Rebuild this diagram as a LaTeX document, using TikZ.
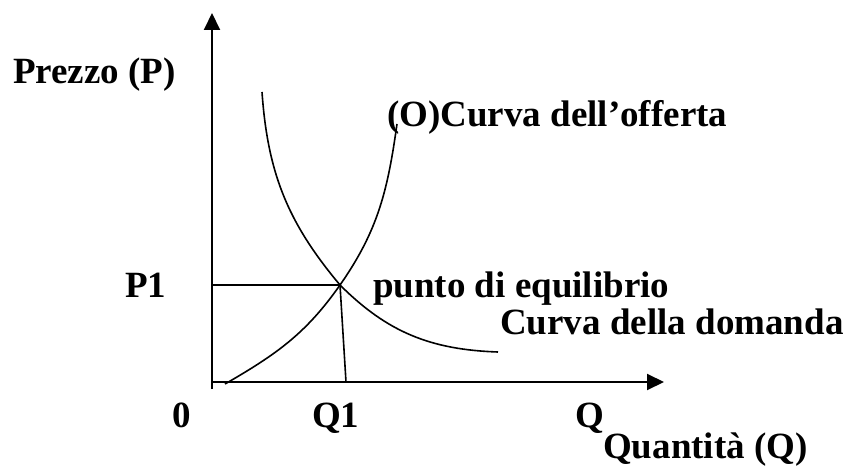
\documentclass[tikz,border=0pt]{standalone}
\usepackage{fontspec}
\setmainfont{Liberation Serif}
\usetikzlibrary{arrows.meta, positioning}

\begin{document}
\begin{tikzpicture}[
    x=1pt, y=-1pt,
    lbl/.style={font=\fontsize{37}{40}\selectfont\bfseries, anchor=base west, inner sep=0pt},
    axisline/.style={-{Triangle[length=17pt, width=16pt]}, line width=2pt},
    curveline/.style={line width=1.6pt}
  ]
    \useasboundingbox (0,0) rectangle (845,473);
    % axes
    \coordinate (origin) at (212,382);
    \coordinate (ybot) at (212,389);
    \coordinate (ytop) at (212,13);
    \coordinate (xend) at (664,382);
    \draw[axisline] (ybot) -- (ytop);
    \draw[axisline] (origin) -- (xend);

    % supply and demand
    \coordinate (eq) at (340,285);
    \coordinate (s0) at (225,384);
    \coordinate (s1) at (397,124);
    \coordinate (d0) at (262,92);
    \coordinate (d1) at (498,352);
    \coordinate (p1) at (212,285);
    \coordinate (q1) at (346,382);
    \draw[curveline] (s0) to[out=30, in=-125] (eq) to[out=55, in=-98] (s1);
    \draw[curveline] (d0) to[out=-86, in=130] (eq) to[out=-45, in=178] (d1);
    \draw[curveline] (p1) -- (eq);
    \draw[curveline] (eq) -- (q1);

    % labels
    \node[lbl] (prezzo) at (13,84) {Prezzo (P)};
    \node[lbl] (offerta) at (387,127) {(O)Curva dell’offerta};
    \node[lbl] (plab) at (125,297) {P1};
    \node[lbl] (punto) at (373,297) {punto di equilibrio};
    \node[lbl] (domanda) at (500,334) {Curva della domanda};
    \node[lbl] (zero) at (172,427) {0};
    \node[lbl] (qlab) at (312,427) {Q1};
    \node[lbl] (qaxis) at (575,427) {Q};
    \node[lbl] (quant) at (603,458) {Quantità (Q)};
  \end{tikzpicture}
\end{document}
